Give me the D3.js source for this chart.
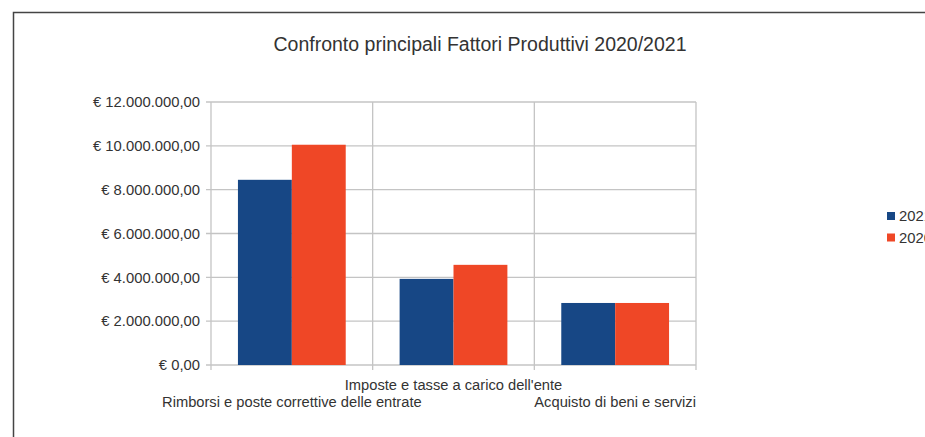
<!DOCTYPE html>
<html>
<head>
<meta charset="utf-8">
<script src="https://cdn.jsdelivr.net/npm/d3@7"></script>
<style>
  body { margin: 0; background: #fff; }
  text { font-family: "Liberation Sans", Arial, sans-serif; fill: #333; }
</style>
</head>
<body>
<div id="my_dataviz"></div>
<script>
// data
const categories = ["Rimborsi e poste correttive delle entrate", "Imposte e tasse a carico dell'ente", "Acquisto di beni e servizi"];
const series = ["2021", "2020"];
const values2021 = [8450000, 3930000, 2830000];
const values2020 = [10050000, 4570000, 2830000];
const yTicks = [0, 2000000, 4000000, 6000000, 8000000, 10000000, 12000000];
const colors = ["#174785", "#ef4726"];

const W = 925, H = 437;
const margin = {top: 102, right: 229, bottom: 72, left: 211},
    width = W - margin.left - margin.right,
    height = H - margin.top - margin.bottom;

const svg = d3.select("#my_dataviz")
  .append("svg")
    .attr("width", W)
    .attr("height", H);

// outer frame
svg.append("path")
  .attr("d", `M13.5,${H + 5} L13.5,12.5 L${W + 5},12.5`)
  .attr("fill", "none")
  .attr("stroke", "#444")
  .attr("stroke-width", 1.5);

// title
svg.append("text")
  .attr("x", 480)
  .attr("y", 51)
  .attr("text-anchor", "middle")
  .style("font-size", "19.5px")
  .text("Confronto principali Fattori Produttivi 2020/2021");

const g = svg.append("g")
  .attr("transform", `translate(${margin.left},${margin.top})`);

const x = d3.scaleBand()
  .domain(categories)
  .range([0, width])
  .paddingInner(0)
  .paddingOuter(0);

// two bars per category, half a bar of space on each side
const xSub = d3.scaleBand()
  .domain(series)
  .range([0, x.bandwidth()])
  .paddingOuter(0.5)
  .paddingInner(0);

const y = d3.scaleLinear()
  .domain([0, 12000000])
  .range([height, 0]);

const fmt = v => "€ " + d3.format(",.2f")(v).replace(/,/g, "#").replace(/\./g, ",").replace(/#/g, ".");

// horizontal grid
g.append("g")
  .selectAll("line")
  .data(yTicks)
  .join("line")
    .attr("x1", -5)
    .attr("x2", width)
    .attr("y1", d => y(d))
    .attr("y2", d => y(d))
    .attr("stroke", "#c4c4c4")
    .attr("stroke-width", 1.3);

// vertical grid at category boundaries
const bounds = categories.map(c => x(c)).concat([width]);
g.append("g")
  .selectAll("line")
  .data(bounds)
  .join("line")
    .attr("x1", d => d)
    .attr("x2", d => d)
    .attr("y1", 0)
    .attr("y2", height + 5)
    .attr("stroke", "#c4c4c4")
    .attr("stroke-width", 1.3);

// y labels
g.append("g")
  .selectAll("text")
  .data(yTicks)
  .join("text")
    .attr("x", -11)
    .attr("y", d => y(d))
    .attr("dy", "0.35em")
    .attr("text-anchor", "end")
    .style("font-size", "14.8px")
    .text(d => fmt(d));

// bars
const rows = categories.map((c, i) => ({cat: c, vals: [values2021[i], values2020[i]]}));
g.append("g")
  .selectAll("g")
  .data(rows)
  .join("g")
    .attr("transform", d => `translate(${x(d.cat)},0)`)
  .selectAll("rect")
  .data(d => d.vals.map((v, j) => ({key: series[j], v: v, j: j})))
  .join("rect")
    .attr("x", d => xSub(d.key))
    .attr("width", xSub.bandwidth())
    .attr("y", d => y(d.v))
    .attr("height", d => height - y(d.v))
    .attr("fill", d => colors[d.j]);

// category labels, staggered
g.append("g")
  .selectAll("text")
  .data(categories)
  .join("text")
    .attr("x", d => x(d) + x.bandwidth() / 2)
    .attr("y", (d, i) => height + (i % 2 === 1 ? 25 : 42))
    .attr("text-anchor", "middle")
    .style("font-size", "14.7px")
    .text(d => d);

// legend (runs past the right edge, as in the original)
const legend = svg.append("g")
  .attr("transform", "translate(887,212)");
series.forEach((s, i) => {
  legend.append("rect")
    .attr("x", 0)
    .attr("y", i * 21.5)
    .attr("width", 8)
    .attr("height", 8)
    .attr("fill", colors[i]);
  legend.append("text")
    .attr("x", 12)
    .attr("y", i * 21.5 + 4)
    .attr("dy", "0.35em")
    .style("font-size", "14.8px")
    .text(s);
});
</script>
</body>
</html>
